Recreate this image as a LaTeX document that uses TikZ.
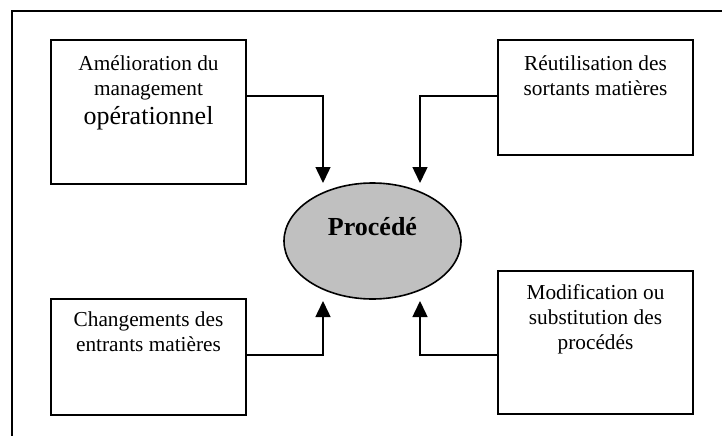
\documentclass[tikz,border=0pt]{standalone}
\usepackage{fontspec}
\setmainfont{Liberation Serif}
\usetikzlibrary{arrows.meta,shapes.geometric}
\definecolor{ellgray}{HTML}{C0C0C0}
\tikzset{
  box/.style={draw, line width=1.6pt, inner sep=0pt},
  txt/.style={align=center, inner sep=0pt, anchor=north, font=\fontsize{21.3}{25}\selectfont},
  conn/.style={line width=1.5pt, -{Triangle[length=16pt,width=15pt]}},
}
\begin{document}
\begin{tikzpicture}[x=1pt,y=-1pt]
\useasboundingbox (0,0) rectangle (722,436);
% outer frame (top and left edges visible)
\draw[line width=1.6pt] (722,11) -- (12,11) -- (12,436);

% boxes
\node[box, minimum width=195pt, minimum height=144pt] (tl) at (148.5,112) {};
\node[box, minimum width=195pt, minimum height=115pt] (tr) at (595.5,97.5) {};
\node[box, minimum width=195pt, minimum height=116pt] (bl) at (148.5,357) {};
\node[box, minimum width=195pt, minimum height=143pt] (br) at (595.5,342.5) {};

% texts
\node[txt] (tltxt) at (148.5,55) {Amélioration du\\ management\\[4pt] {\fontsize{26}{29}\selectfont opérationnel}};
\node[txt] (trtxt) at (595.5,55) {Réutilisation des\\ sortants matières};
\node[txt] (bltxt) at (148.5,312) {Changements des\\ entrants matières};
\node[txt] (brtxt) at (595.5,284) {Modification ou\\ substitution des\\ procédés};

% central ellipse
\node[draw, line width=1.6pt, fill=ellgray, ellipse, minimum width=177pt, minimum height=116pt, inner sep=0pt] (p) at (372.5,241) {};
\node[inner sep=0pt, font=\fontsize{26}{30}\selectfont\bfseries] (ptxt) at (372.5,227) {Procédé};

% connector points
\coordinate (a1) at (323,183);
\coordinate (a2) at (420,183);
\coordinate (a3) at (323,301);
\coordinate (a4) at (420,301);

\draw[conn] ([yshift=-57pt]tl.north east) -| (a1);
\draw[conn] ([yshift=-57pt]tr.north west) -| (a2);
\draw[conn] ([yshift=-57pt]bl.north east) -| (a3);
\draw[conn] ([yshift=-85pt]br.north west) -| (a4);
\end{tikzpicture}
\end{document}
